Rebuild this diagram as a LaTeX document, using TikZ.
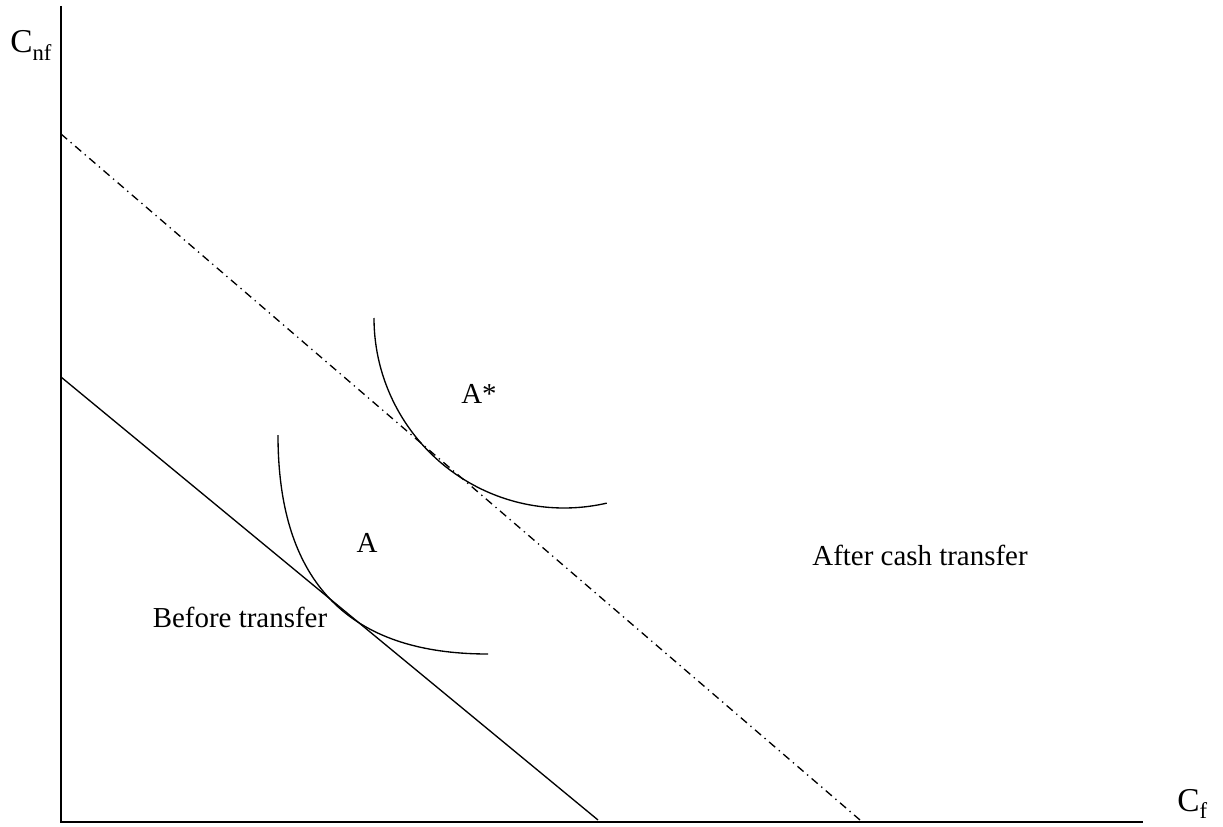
\documentclass[tikz,border=0pt]{standalone}
\usepackage{fontspec}
\setmainfont{Liberation Serif}
\tikzset{
  axisline/.style={line width=1.3pt},
  budget/.style={line width=1pt},
  budgetcash/.style={line width=1pt, dash pattern=on 6pt off 3.5pt on 1pt off 3.5pt},
  indiff/.style={line width=1pt},
  lbl/.style={font=\fontsize{21.7}{26}\selectfont, inner sep=0pt, anchor=base},
  axlbl/.style={font=\fontsize{25}{30}\selectfont, inner sep=0pt, anchor=base west}
}
\begin{document}
\begin{tikzpicture}[x=0.75pt,y=-0.75pt]
\useasboundingbox (0,0) rectangle (1223,827);
% axes
\coordinate (o) at (61,822);
\coordinate (ytop) at (61,6);
\coordinate (xend) at (1143,822);
\draw[axisline] (ytop) -- (o) -- (xend);
\node[axlbl] (cnf) at (10,53) {C\raisebox{-0.22em}{\fontsize{17}{17}\selectfont nf}};
\node[axlbl] (cf) at (1177,811) {C\raisebox{-0.22em}{\fontsize{17}{17}\selectfont f}};
% budget lines
\coordinate (b1s) at (61,377);
\coordinate (b1e) at (598,820);
\draw[budget] (b1s) -- (b1e);
\coordinate (b2s) at (61,134);
\coordinate (b2e) at (860,820);
\draw[budgetcash] (b2s) -- (b2e);
% indifference curves
\coordinate (as) at (278,435);
\coordinate (ae) at (488,654);
\draw[indiff] (as) .. controls (278,603) and (370,654) .. (ae);
\coordinate (ass) at (374,318);
\draw[indiff] (ass) arc[start angle=180, end angle=77, radius=190];
% labels
\node[lbl] (la) at (367,552) {A};
\node[lbl] (las) at (479,403) {A*};
\node[lbl] (lbefore) at (240,627) {Before transfer};
\node[lbl] (lafter) at (920,565) {After cash transfer};
\end{tikzpicture}
\end{document}
